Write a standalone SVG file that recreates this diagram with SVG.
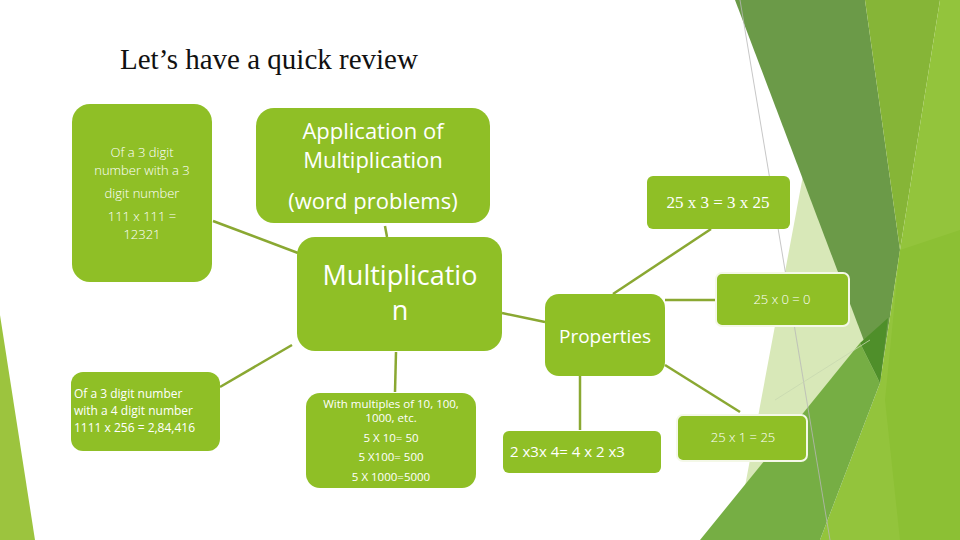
<svg xmlns="http://www.w3.org/2000/svg" width="960" height="540" viewBox="0 0 960 540">
<style>
.n{fill:#8fbf26}
.w{stroke:#f4f8e8;stroke-width:2}
.t{fill:#fff;font-family:"Open Sans","DejaVu Sans",sans-serif;text-anchor:middle}
.x{font-weight:300}
.l{fill:#fff;font-family:"Open Sans","DejaVu Sans",sans-serif}
#conn line{stroke:#8aa832;stroke-width:2.5}
</style>
<rect width="960" height="540" fill="#fff"/>
<g id="bg">
<polygon points="0,315 35,540 0,540" fill="#9cc43e"/>
<polygon points="805,165 880,383 760,540 735,540" fill="#d8e8b8"/>
<polygon points="735,0 865,0 900,250 880,383" fill="#6b9a48"/>
<polygon points="865,0 940,0 900,250" fill="#86b537"/>
<polygon points="940,0 960,0 960,540 820,540 880,383 900,250" fill="#93c43c"/>
<polygon points="900,250 960,230 960,540 900,540 885,400" fill="#8cc034"/>
<polygon points="700,540 860,343 880,383 820,540" fill="#76ae44"/>
<polygon points="860,343 880,383 888,318" fill="#4f8f2a"/>
<line x1="740" y1="0" x2="830" y2="540" stroke="#b8b8b8" stroke-width="0.8"/>
<line x1="775" y1="400" x2="870" y2="340" stroke="#c8d8b0" stroke-width="0.8"/>
</g>
<text x="120" y="69" font-family="Liberation Serif,serif" font-size="29" fill="#111">Let’s have a quick review</text>
<g id="conn">
<line x1="213" y1="221" x2="298" y2="253"/>
<line x1="385" y1="226" x2="387" y2="237"/>
<line x1="292" y1="345" x2="220" y2="387"/>
<line x1="396" y1="352" x2="395" y2="392"/>
<line x1="502" y1="313" x2="545" y2="322"/>
<line x1="613" y1="294" x2="711" y2="229"/>
<line x1="665" y1="300" x2="716" y2="300"/>
<line x1="665" y1="365" x2="740" y2="412"/>
<line x1="580" y1="376" x2="580" y2="430"/>
</g>
<g id="n1"><rect class="n" x="72" y="104" width="140" height="178" rx="18"/>
<text class="t x" font-size="13"><tspan x="142" y="157">Of a 3 digit</tspan><tspan x="142" y="175">number with a 3</tspan><tspan x="142" y="198">digit number</tspan><tspan x="142" y="221">111 x 111 =</tspan><tspan x="142" y="239">12321</tspan></text></g>
<g id="n2"><rect class="n" x="256" y="108" width="234" height="115" rx="18"/>
<text class="t" font-size="22"><tspan x="373" y="139">Application of</tspan><tspan x="373" y="168">Multiplication</tspan><tspan x="373" y="209">(word problems)</tspan></text></g>
<g id="n3"><rect class="n" x="297" y="237" width="205" height="114" rx="18"/>
<text class="t" font-size="27"><tspan x="400" y="285">Multiplicatio</tspan><tspan x="400" y="320">n</tspan></text></g>
<g id="n4"><rect class="n" x="545" y="294" width="120" height="82" rx="14"/>
<text class="t" font-size="19" x="605" y="343">Properties</text></g>
<g id="n5"><rect class="n" x="647" y="176" width="143" height="53" rx="6"/>
<text class="t" font-size="17" x="718" y="208" style="font-family:'Liberation Serif',serif">25 x 3 = 3 x 25</text></g>
<g id="n6"><rect class="n w" x="716" y="273" width="133" height="53" rx="6"/>
<text class="t x" font-size="13" x="782" y="304">25 x 0 = 0</text></g>
<g id="n7"><rect class="n w" x="677" y="415" width="130" height="46" rx="6"/>
<text class="t x" font-size="13" x="743" y="442">25 x 1 = 25</text></g>
<g id="n8"><rect class="n" x="503" y="431" width="158" height="42" rx="6"/>
<text class="l" font-size="15" x="510" y="457">2 x3x 4= 4 x 2 x3</text></g>
<g id="n9"><rect class="n" x="306" y="393" width="170" height="95" rx="14"/>
<text class="t" font-size="11.5"><tspan x="391" y="408">With multiples of 10, 100,</tspan><tspan x="391" y="422">1000,  etc.</tspan><tspan x="391" y="442">5 X 10= 50</tspan><tspan x="391" y="461">5 X100= 500</tspan><tspan x="391" y="481">5 X 1000=5000</tspan></text></g>
<g id="n10"><rect class="n" x="71" y="372" width="149" height="79" rx="12"/>
<text class="l" font-size="12"><tspan x="74" y="398">Of a 3 digit number</tspan><tspan x="74" y="415">with a 4 digit number</tspan><tspan x="74" y="432">1111 x 256 = 2,84,416</tspan></text></g>
</svg>
